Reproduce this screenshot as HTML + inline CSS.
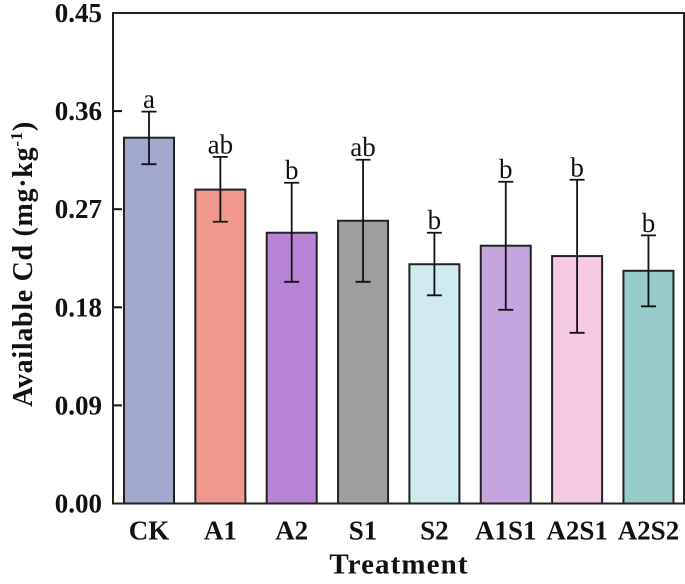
<!DOCTYPE html>
<html>
<head>
<meta charset="utf-8">
<style>
html,body{margin:0;padding:0;background:#fff;}
svg{display:block;filter:blur(0.35px);}
text{font-family:"Liberation Serif",serif;fill:#111;}
</style>
</head>
<body>
<svg id="chart" xmlns="http://www.w3.org/2000/svg" width="685" height="584" viewBox="0 0 685 584">
<text transform="translate(32,264) rotate(-90)" text-anchor="middle" font-size="28" font-weight="bold" letter-spacing="0.7">Available Cd (mg·kg<tspan font-size="17" dy="-10">-1</tspan><tspan dy="10">)</tspan></text>
<text x="399" y="573.5" text-anchor="middle" font-size="29" font-weight="bold" letter-spacing="1.1">Treatment</text>
</svg>
<script>
const categories = ['CK','A1','A2','S1','S2','A1S1','A2S1','A2S2'];
const means = [0.3356,0.288,0.2484,0.2594,0.2195,0.2365,0.227,0.2135];
const errUpper = [0.3595,0.318,0.2943,0.3154,0.2484,0.2952,0.297,0.246];
const errLower = [0.3113,0.2585,0.2034,0.2034,0.191,0.1777,0.1566,0.1809];
const sigLetters = ['a','ab','b','ab','b','b','b','b'];
const barColors = ['#a1a9d0','#f0988c','#b883d4','#9e9e9e','#cfeaf1','#c4a5de','#f6cae5','#96cccb'];
const tickValues = [0,0.09,0.18,0.27,0.36,0.45];
const tickLabels = ['0.00','0.09','0.18','0.27','0.36','0.45'];

const NS = 'http://www.w3.org/2000/svg';
const svg = document.getElementById('chart');
const plotLeft = 113, plotRight = 684, plotTop = 13, plotBottom = 503.5;
const yMax = 0.45;
const firstCenter = 149, step = 71.35, barW = 50, capW = 15;
function yScale(v){ return plotBottom - (v / yMax) * (plotBottom - plotTop); }
function xScale(i){ return firstCenter + i * step; }
function make(tag, attrs, parent){
  const el = document.createElementNS(NS, tag);
  for (const k in attrs) el.setAttribute(k, attrs[k]);
  (parent || svg).appendChild(el);
  return el;
}

categories.forEach(function(cat, i){
  const cx = xScale(i);
  const top = yScale(means[i]);
  const bar = make('rect', {x: cx - barW / 2, y: top, width: barW, height: plotBottom - top, fill: barColors[i], stroke: '#222', 'stroke-width': 2});
  
  

  const up = yScale(errUpper[i]), lo = yScale(errLower[i]);
  const err = make('path', {d: 'M' + (cx - capW / 2) + ' ' + up + 'H' + (cx + capW / 2) + 'M' + cx + ' ' + up + 'V' + lo + 'M' + (cx - capW / 2) + ' ' + lo + 'H' + (cx + capW / 2), fill: 'none', stroke: '#111', 'stroke-width': 1.8});
  
  

  const sig = make('text', {x: cx, y: up - 3.5, 'text-anchor': 'middle', 'font-size': 27});
  sig.textContent = sigLetters[i];
  
  

  const lab = make('text', {x: cx, y: 539.5, 'text-anchor': 'middle', 'font-size': 27, 'font-weight': 'bold'});
  lab.textContent = cat;
  
  
});

tickValues.forEach(function(v, i){
  const y = yScale(v);
  const tick = make('line', {x1: plotLeft, x2: plotLeft + 9, y1: y, y2: y, stroke: '#111', 'stroke-width': 2});
  
  
  const lab = make('text', {x: 102, y: y + 9, 'text-anchor': 'end', 'font-size': 27, 'font-weight': 'bold'});
  lab.textContent = tickLabels[i];
  
  
});

const frame = make('rect', {x: plotLeft, y: plotTop, width: plotRight - plotLeft, height: plotBottom - plotTop, fill: 'none', stroke: '#222', 'stroke-width': 2});


</script>
</body>
</html>
